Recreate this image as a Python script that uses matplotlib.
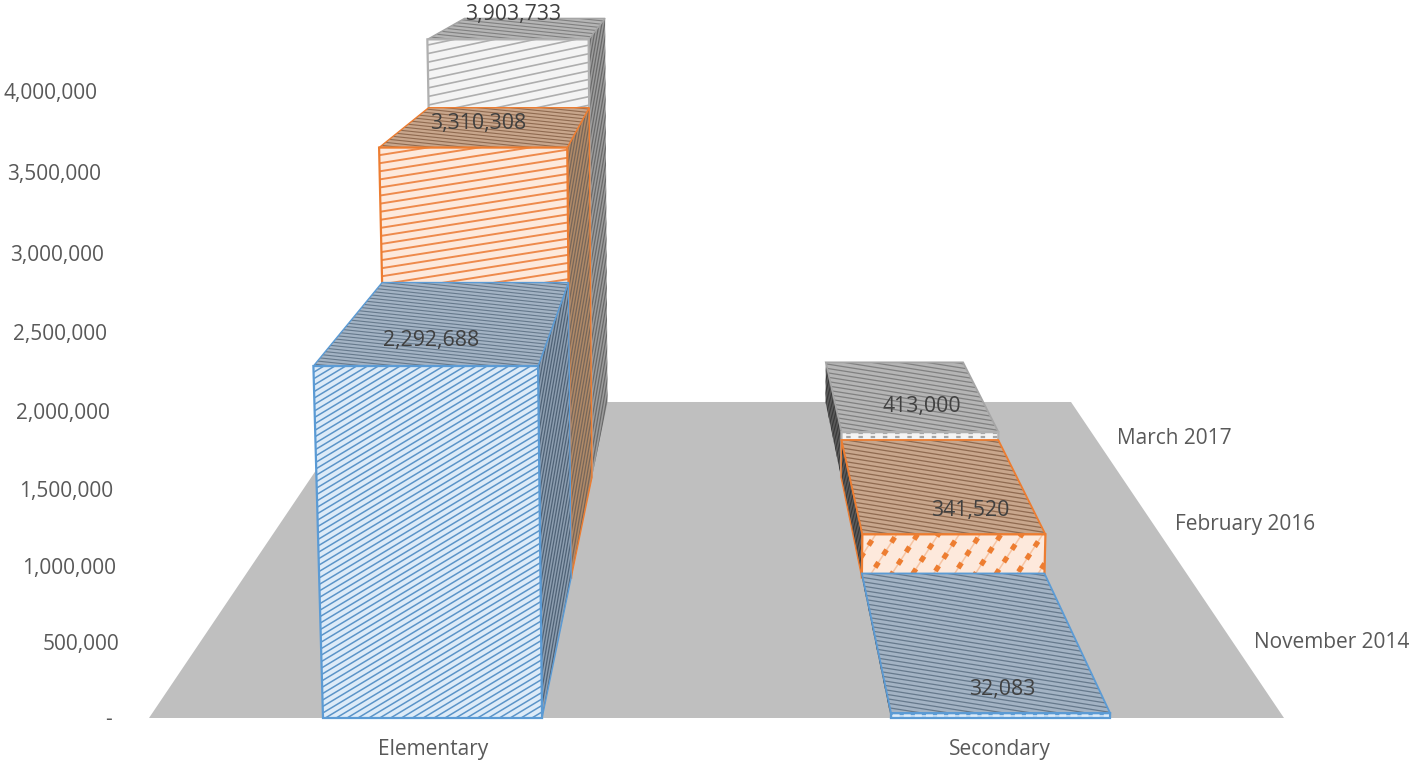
import numpy as np
import matplotlib
matplotlib.use("Agg")
import matplotlib.pyplot as plt
from matplotlib.patches import Polygon
from matplotlib.collections import LineCollection

categories = ["Elementary", "Secondary"]
series_names = ["November 2014", "February 2016", "March 2017"]
nov_2014 = [2292688, 32083]
feb_2016 = [3310308, 341520]
mar_2017 = [3903733, 413000]
series_values = [nov_2014, feb_2016, mar_2017]
tick_values = [0, 500000, 1000000, 1500000, 2000000, 2500000, 3000000, 3500000, 4000000]

plt.rcParams["font.family"] = ["Open Sans", "DejaVu Sans"]

fig = plt.figure(figsize=(14.10, 7.61), dpi=100)
ax = fig.add_axes([0, 0, 1, 1])
ax.set_xlim(0, 1410)
ax.set_ylim(761, 0)
ax.axis("off")


def project(u, d, value):
    """Perspective map: u across the floor, d into depth (0..1), value upward."""
    h = value / 1e6
    w = 1 + 0.6008 * d - 0.0109 * h
    x = (149 + 1135 * u + 430.5 * d - 7.6 * h) / w
    y = (718 - 74.5 * d - 157.5 * h) / w
    return x, y


def hatch(points, angle, spacing, color, lw, dashes=None, z=2):
    pts = np.array(points)
    clip = Polygon(pts, closed=True, transform=ax.transData, fc="none", ec="none")
    ax.add_patch(clip)
    c = pts.mean(axis=0)
    r = np.hypot(*(pts - c).T).max() + spacing
    a = np.radians(angle)
    dirv = np.array([np.cos(a), -np.sin(a)])
    nrm = np.array([np.sin(a), np.cos(a)])
    segs = []
    for off in np.arange(-r, r + spacing, spacing):
        p = c + nrm * off
        segs.append([p - dirv * r, p + dirv * r])
    lc = LineCollection(segs, colors=color, linewidths=lw, zorder=z)
    if dashes:
        lc.set_linestyle((0, dashes))
    ax.add_collection(lc)
    lc.set_clip_path(clip)


def face(points, bg, line, angle, spacing, lw, edge=None, edge_lw=1.5, dashes=None, z=2):
    ax.add_patch(Polygon(points, closed=True, fc=bg, ec="none", zorder=z))
    if dashes and lw > 3:
        hatch(points, angle, spacing, "#F7C4A2", 1.1, z=z)
    hatch(points, angle, spacing, line, lw, dashes=dashes, z=z)
    if edge:
        ax.add_patch(Polygon(points, closed=True, fc="none", ec=edge, lw=edge_lw,
                             joinstyle="miter", zorder=z))


edges = ["#5B9BD5", "#ED7D31", "#A5A5A5"]
front_bg = ["#DDEBF8", "#FDE9DC", "#F4F4F4"]
front_ln = ["#5B94C8", "#EE8A4C", "#AEAEAE"]
top_bg = ["#A3B3C4", "#C8A68C", "#B5B5B5"]
top_ln = ["#66798C", "#8F6A50", "#808080"]
side_bg = ["#8D9EB0", "#B08A68", "#9C9C9C"]
side_ln = ["#4F6276", "#76665A", "#6A6A6A"]

# per category, per series: (angle, spacing, line width, dashes) of the front texture
front_tex = [
    [(31, 5.6, 1.1, None), (9, 8.0, 1.4, None), (12, 8.4, 1.2, None)],
    [(0, 3.0, 1.0, (3, 5)), (57, 17.5, 3.7, (1.2, 1.7)), (0, 4.0, 1.6, (2, 3.5))],
]
top_tex = [(-6, 3.4, 0.8), (-9, 4.3, 0.9)]
depth_edges = [0, 1 / 3, 2 / 3, 1]
bar_left = [0.1533, 0.6537]
bar_width = 0.1930

# floor
floor = [project(0, 0, 0), project(1, 0, 0), project(1, 1, 0), project(0, 1, 0)]
ax.add_patch(Polygon(floor, closed=True, fc="#BFBFBF", ec="none", zorder=1))

# bars, from back to front so the nearer ones cover the farther ones
for c, cat in enumerate(categories):
    u0, u1 = bar_left[c], bar_left[c] + bar_width
    for s in (2, 1, 0):
        v = series_values[s][c]
        d0, d1 = depth_edges[s], depth_edges[s + 1]
        z = 2 + (2 - s)
        su = u1 if c == 0 else u0
        side = [project(su, d0, 0), project(su, d1, 0), project(su, d1, v), project(su, d0, v)]
        if c == 0:
            face(side, side_bg[s], side_ln[s], 80, 2.8, 0.9, edge=edges[s] if s < 2 else None, edge_lw=1, z=z)
        else:
            face(side, "#5A5A5A", "#3A3A3A", 75, 3.0, 0.9, edge=edges[s] if s == 1 else None, edge_lw=1, z=z)
        top = [project(u0, d0, v), project(u1, d0, v), project(u1, d1, v), project(u0, d1, v)]
        a, sp, lw_ = top_tex[c]
        face(top, top_bg[s], top_ln[s], a, sp, lw_, edge=edges[s] if s < 2 else "#A5A5A5",
             edge_lw=1.0 if c == 0 else 1.3, z=z)
        fr = [project(u0, d0, 0), project(u1, d0, 0), project(u1, d0, v), project(u0, d0, v)]
        ang, sp, lw_, dsh = front_tex[c][s]
        line = edges[s] if c == 1 else front_ln[s]
        face(fr, front_bg[s], line, ang, sp, lw_, edge=edges[s] if s < 2 else "#B0B0B0",
             edge_lw=1.6, dashes=dsh, z=z)

# value axis labels
for t in tick_values:
    _, y = project(0, 0, t)
    x_right = 122 - 6 * t / 1e6
    label = "-" if t == 0 else f"{t:,}"
    if t == 0:
        x_right = 112
    ax.text(x_right, y + 1.5, label, ha="right", va="center", fontsize=15, color="#595959", zorder=9)

# category labels
for c, cat in enumerate(categories):
    x, y = project(0.25 + 0.5 * c, 0, 0)
    ax.text(x, y + 31.5, cat, ha="center", va="center", fontsize=15, color="#595959", zorder=9)

# series labels
for s, name in enumerate(series_names):
    d = (depth_edges[s] + depth_edges[s + 1]) / 2
    x, y = project(1, d, 0)
    ax.text(x + 22, y + 1, name, ha="left", va="center", fontsize=15, color="#595959", zorder=9)

# data labels
data_offsets = {(0, 0): (-22, 20.5), (0, 1): (-14.6, -3), (0, 2): (-9.5, -14),
                (1, 0): (28, 53), (1, 1): (35, 27), (1, 2): (16, 12)}
for c in range(2):
    for s in range(3):
        v = series_values[s][c]
        d = (depth_edges[s] + depth_edges[s + 1]) / 2
        x, y = project(0.25 + 0.5 * c, d, v)
        dx, dy = data_offsets[(c, s)]
        ax.text(x + dx, y + dy, f"{v:,}", ha="center", va="center", fontsize=15.3,
                color="#404040", zorder=10)

fig.savefig("out.png", dpi=100, facecolor="white")
